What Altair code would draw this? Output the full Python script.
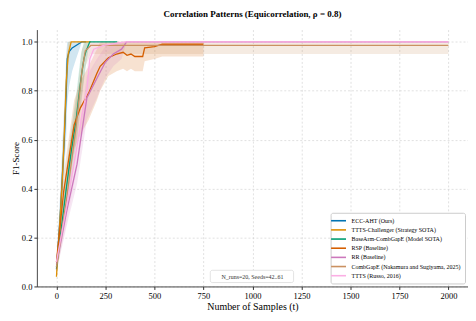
import altair as alt
import pandas as pd

SERIES = [
    "ECC-AHT (Ours)",
    "TTTS-Challenger (Strategy SOTA)",
    "BaseArm-CombGapE (Model SOTA)",
    "RSP (Baseline)",
    "RR (Baseline)",
    "CombGapE (Nakamura and Sugiyama, 2025)",
    "TTTS (Russo, 2016)",
]
COLORS = ["#0173b2", "#de8f05", "#029e73", "#d55e00", "#cc78bc", "#ca9161", "#fbafe4"]

# ECC-AHT
ecc_t = [0, 10, 20, 30, 40, 50, 55, 65, 80, 100, 130, 150]
ecc_m = [0.07, 0.18, 0.30, 0.45, 0.60, 0.80, 0.93, 0.96, 0.975, 0.985, 1.0, 1.0]
ecc_lo = [0.04, 0.12, 0.22, 0.35, 0.48, 0.62, 0.75, 0.82, 0.88, 0.93, 1.0, 1.0]
ecc_hi = [0.10, 0.25, 0.40, 0.58, 0.75, 0.95, 1.0, 1.0, 1.0, 1.0, 1.0, 1.0]

# TTTS-Challenger
ttc_t = [0, 10, 20, 30, 40, 50, 60, 75, 175]
ttc_m = [0.04, 0.17, 0.30, 0.44, 0.62, 0.84, 0.95, 1.0, 1.0]
ttc_lo = [0.02, 0.12, 0.24, 0.37, 0.54, 0.76, 0.90, 1.0, 1.0]
ttc_hi = [0.07, 0.22, 0.36, 0.52, 0.70, 0.92, 1.0, 1.0, 1.0]

# BaseArm-CombGapE
bac_t = [0, 25, 50, 75, 100, 125, 140, 150, 170, 310]
bac_m = [0.08, 0.24, 0.40, 0.55, 0.68, 0.85, 0.93, 0.96, 1.0, 1.0]
bac_lo = [0.05, 0.18, 0.32, 0.46, 0.58, 0.74, 0.84, 0.90, 1.0, 1.0]
bac_hi = [0.11, 0.30, 0.48, 0.64, 0.78, 0.95, 1.0, 1.0, 1.0, 1.0]

# RSP
rsp_t = [0, 37, 90, 122, 164, 206, 223, 265, 307, 340, 360, 380, 400, 440, 450, 500, 540, 750]
rsp_m = [0.10, 0.39, 0.66, 0.73, 0.79, 0.87, 0.90, 0.935, 0.95, 0.957, 0.945, 0.95, 0.94, 0.94, 0.975, 0.98, 0.99, 0.99]
rsp_lo = [0.07, 0.32, 0.56, 0.62, 0.68, 0.76, 0.80, 0.86, 0.88, 0.89, 0.88, 0.89, 0.88, 0.88, 0.92, 0.93, 0.94, 0.94]
rsp_hi = [0.13, 0.46, 0.76, 0.84, 0.90, 0.97, 1.0, 1.0, 1.0, 1.0, 1.0, 1.0, 1.0, 1.0, 1.0, 1.0, 1.0, 1.0]

# RR
rr_t = [0, 50, 105, 155, 206, 248, 290, 332, 358, 2000]
rr_m = [0.09, 0.30, 0.50, 0.77, 0.85, 0.915, 0.95, 0.97, 1.0, 1.0]
rr_lo = [0.06, 0.24, 0.42, 0.68, 0.77, 0.85, 0.90, 0.93, 1.0, 1.0]
rr_hi = [0.12, 0.36, 0.58, 0.86, 0.93, 0.98, 1.0, 1.0, 1.0, 1.0]

# CombGapE
cg_t = [0, 50, 100, 130, 147, 175, 2000]
cg_m = [0.08, 0.35, 0.65, 0.88, 0.963, 0.985, 0.985]
cg_lo = [0.05, 0.28, 0.55, 0.78, 0.90, 0.95, 0.95]
cg_hi = [0.11, 0.42, 0.75, 0.97, 1.0, 1.0, 1.0]

# TTTS
tt_t = [0, 50, 100, 130, 155, 170, 190, 240, 350, 2000]
tt_m = [0.10, 0.32, 0.55, 0.70, 0.80, 0.93, 0.97, 0.985, 1.0, 1.0]
tt_lo = [0.07, 0.25, 0.46, 0.60, 0.70, 0.84, 0.90, 0.95, 1.0, 1.0]
tt_hi = [0.13, 0.39, 0.64, 0.80, 0.90, 1.0, 1.0, 1.0, 1.0, 1.0]

X_TICKS = [0, 250, 500, 750, 1000, 1250, 1500, 1750, 2000]
Y_TICKS = [0.0, 0.2, 0.4, 0.6, 0.8, 1.0]
NOTE = "N_runs=20, Seeds=42..61"

all_series = [
    (ecc_t, ecc_m, ecc_lo, ecc_hi),
    (ttc_t, ttc_m, ttc_lo, ttc_hi),
    (bac_t, bac_m, bac_lo, bac_hi),
    (rsp_t, rsp_m, rsp_lo, rsp_hi),
    (rr_t, rr_m, rr_lo, rr_hi),
    (cg_t, cg_m, cg_lo, cg_hi),
    (tt_t, tt_m, tt_lo, tt_hi),
]
rows = []
for i, (name, (t, m, lo, hi)) in enumerate(zip(SERIES, all_series)):
    for a, b, c, d in zip(t, m, lo, hi):
        rows.append({"series": name, "idx": i, "t": a, "mean": b, "lo": c, "hi": d})
df = pd.DataFrame(rows)

FONT = "Liberation Serif"
xs = alt.Scale(domain=[-100, 2100], nice=False, zero=False)
ys = alt.Scale(domain=[0, 1.05], nice=False)
cs = alt.Scale(domain=SERIES, range=COLORS)

x_axis = alt.Axis(values=X_TICKS, title="Number of Samples (t)", labelFontSize=8.5,
                  titleFontSize=10, grid=True, format="d")
y_axis = alt.Axis(values=Y_TICKS, title="F1-Score", labelFontSize=8.5, titleFontSize=9,
                  grid=True, format=".1f")

base = alt.Chart(df)
bands = base.mark_area(opacity=0.18).encode(
    x=alt.X("t:Q", scale=xs, axis=x_axis),
    y=alt.Y("lo:Q", scale=ys, axis=y_axis),
    y2="hi:Q",
    color=alt.Color("series:N", scale=cs, legend=None),
    detail="idx:O",
)
lines = base.mark_line(strokeWidth=1.3).encode(
    x=alt.X("t:Q", scale=xs),
    y=alt.Y("mean:Q", scale=ys),
    color=alt.Color(
        "series:N", scale=cs, sort=SERIES,
        legend=alt.Legend(
            title=None, orient="bottom-right", offset=3, padding=4,
            fillColor="white", strokeColor="#cccccc", cornerRadius=2,
            labelFont=FONT, labelFontSize=6, labelLimit=300,
            symbolType="M-2.5,0L2.5,0", symbolSize=36, symbolStrokeWidth=1.6,
            symbolFillColor="transparent", rowPadding=1.2, labelOffset=9,
        ),
    ),
    order="t:Q",
)

note_df = pd.DataFrame({"x": [1000], "y": [0.04], "x1": [785], "x2": [1210], "y1": [0.016], "y2": [0.066], "label": [NOTE]})
note_box = alt.Chart(note_df).mark_rect(fill="white", stroke="#d0d0d0", strokeWidth=0.6, cornerRadius=2).encode(
    x=alt.X("x1:Q", scale=xs), x2="x2:Q", y=alt.Y("y1:Q", scale=ys), y2="y2:Q"
)
note_text = alt.Chart(note_df).mark_text(font=FONT, fontSize=6, color="#333333").encode(
    x=alt.X("x:Q", scale=xs), y=alt.Y("y:Q", scale=ys), text="label:N"
)

chart = alt.layer(bands, lines, note_box, note_text).resolve_legend(color="independent").properties(
    width=433, height=258,
    autosize=alt.AutoSizeParams(type="none"),
    padding={"left": 29, "top": 21, "right": 0, "bottom": 26},
    title=alt.Title("Correlation Patterns (Equicorrelation, ρ = 0.8)", font=FONT, fontSize=9,
                    fontWeight="bold", anchor="middle", offset=11, color="black"),
).configure_view(stroke=None).configure_axis(
    labelFont=FONT, titleFont=FONT, titleFontWeight="normal", labelColor="black", titleColor="black",
    domainColor="#333333", tickColor="#333333", tickSize=3, domainWidth=0.9,
    gridColor="#cccccc", gridDash=[2, 2], gridWidth=0.6, labelPadding=2,
).configure_axisX(titlePadding=2).configure_axisY(titlePadding=1)

chart.save("out.html", embed_options={"renderer": "svg", "actions": False})
